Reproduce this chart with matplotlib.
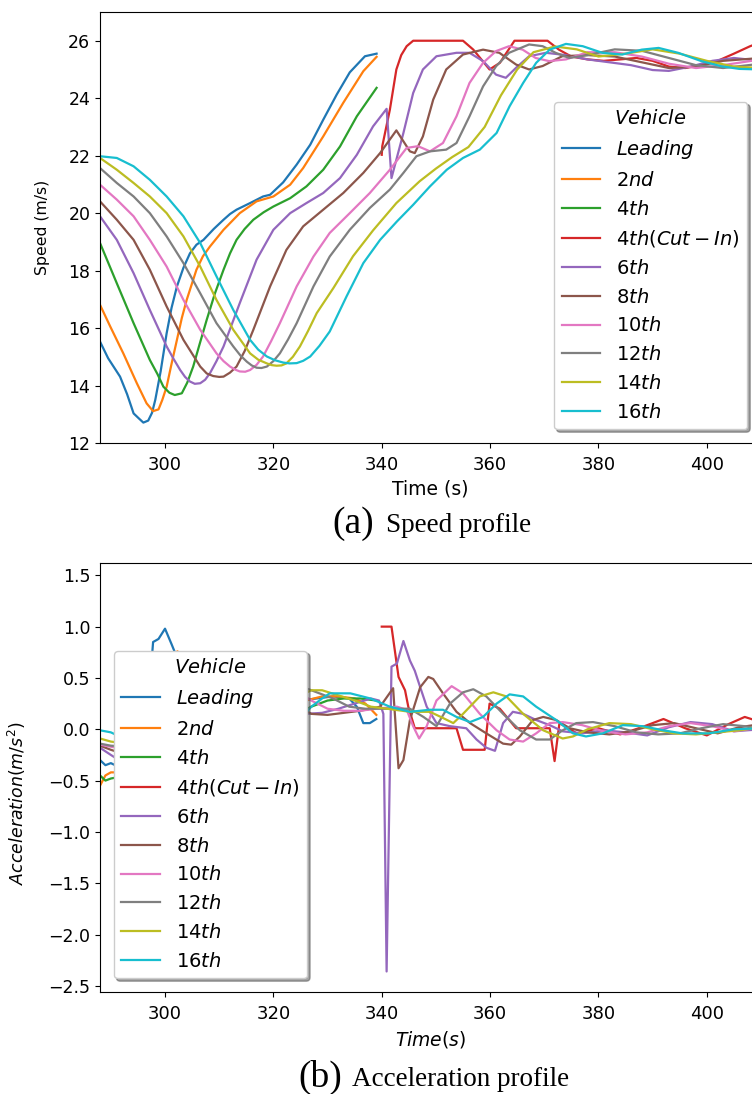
import matplotlib
matplotlib.use("Agg")
import matplotlib.pyplot as plt

# ---- vehicle labels / colors (tab10 order) ----
labels = [r"$Leading$", r"2$nd$", r"4$th$", r"4$th(Cut-In)$", r"6$th$",
          r"8$th$", r"10$th$", r"12$th$", r"14$th$", r"16$th$"]

# ---- speed profiles (t in s, v in m/s) ----
lead_t = [288, 289.5, 291.7, 293, 294.2, 295.2, 296, 296.9, 297.6, 298.2, 299.2, 300.3, 301.2, 302.2, 303.4, 304.6,
          305.8, 307.1, 309, 310.8, 312, 313.2, 315.7, 318.1, 319.4, 321.8, 324.3, 326.8, 329.2, 331.7, 334.1,
          336.9, 339.05]
lead_v = [15.53, 14.95, 14.31, 13.7, 13.03, 12.85, 12.71, 12.78, 13.05, 13.5, 14.5, 15.82, 16.7, 17.45, 18.1, 18.6,
          18.9, 19.07, 19.45, 19.77, 19.97, 20.12, 20.35, 20.58, 20.64, 21.07, 21.69, 22.38, 23.25, 24.13, 24.9,
          25.46, 25.55]

nd2_t = [288, 289.9, 292.3, 294.8, 296.6, 297.8, 298.8, 299.5, 300.3, 301.2, 302.2, 303.1, 304, 305.8, 307, 308.3,
         310.8, 313.8, 316.9, 320, 323.1, 325.5, 329.2, 332.9, 336.6, 339.05]
nd2_v = [16.81, 16.05, 15.12, 14.08, 13.38, 13.11, 13.17, 13.5, 13.96, 14.75, 15.59, 16.35, 16.98, 18.03, 18.5,
         18.84, 19.42, 20.0, 20.41, 20.58, 20.99, 21.57, 22.67, 23.84, 24.94, 25.44]

th4_t = [288, 291.1, 294.2, 297.2, 298.6, 299.7, 300.8, 301.8, 303.1, 304.1, 305.2, 306.4, 307.7, 309.2, 310.8,
         312, 313.2, 314.7, 316.3, 318.2, 320, 323.1, 326.1, 329.2, 332.3, 335.4, 339.05]
th4_v = [18.96, 17.56, 16.17, 14.89, 14.4, 13.96, 13.75, 13.67, 13.73, 14.1, 14.66, 15.45, 16.29, 17.2, 18.03,
         18.6, 19.07, 19.45, 19.77, 20.03, 20.23, 20.52, 20.93, 21.51, 22.32, 23.37, 24.36]

cut_t = [340, 340.1, 341.5, 342.7, 343.6, 344.6, 345.8, 355, 356.9, 359.9, 361.8, 364.5, 370.6, 372.7, 375, 378,
         381, 384, 387, 390, 393, 396, 399, 402, 405, 408, 410]
cut_v = [22.03, 22.33, 23.6, 25.0, 25.5, 25.81, 26.0, 26.0, 25.69, 25.0, 25.23, 26.0, 26.0, 25.69, 25.45, 25.35,
         25.3, 25.35, 25.4, 25.3, 25.1, 25.05, 25.15, 25.3, 25.55, 25.81, 25.95]

th6_t = [288, 291.1, 294.2, 297.2, 300.3, 301.6, 302.8, 303.7, 304.6, 305.5, 306.5, 307.4, 308.3, 309.5, 310.8,
         313.8, 316.9, 320, 323.1, 326.1, 329.2, 332.3, 335.4, 338.4, 340.9, 341.8, 344, 345.8, 347.6, 350.1,
         353.8, 356.2, 358.7, 361.1, 362.9, 364.8, 367.2, 370.3, 374, 378, 382, 386, 390, 393, 397, 401, 405, 410]
th6_v = [19.89, 19.07, 17.91, 16.63, 15.36, 14.92, 14.54, 14.3, 14.14, 14.06, 14.08, 14.2, 14.43, 14.85, 15.36,
         16.87, 18.38, 19.42, 20.0, 20.35, 20.7, 21.22, 22.03, 23.02, 23.63, 21.22, 22.79, 24.18, 25.0, 25.46,
         25.58, 25.58, 25.29, 24.82, 24.71, 25.06, 25.46, 25.58, 25.5, 25.35, 25.25, 25.15, 24.98, 24.95, 25.1,
         25.3, 25.4, 25.3]

th8_t = [288, 291.1, 294.2, 297.2, 300.3, 303.4, 306.5, 307.7, 308.9, 310, 310.8, 312, 313.2, 314.7, 316.3, 319.4,
         322.4, 325.5, 329.2, 332.9, 336.6, 339.7, 342.7, 345.2, 346.1, 347.6, 349.5, 351.9, 355, 358.7, 361.7,
         364.8, 367.2, 369.7, 373.3, 378, 383, 388, 393, 398, 403, 410]
th8_v = [20.41, 19.77, 19.07, 18.03, 16.75, 15.59, 14.66, 14.42, 14.33, 14.3, 14.31, 14.45, 14.66, 15.2, 15.94,
         17.45, 18.72, 19.54, 20.12, 20.7, 21.4, 22.09, 22.88, 22.15, 22.09, 22.67, 23.95, 25.0, 25.52, 25.69,
         25.58, 25.17, 25.0, 25.12, 25.46, 25.5, 25.45, 25.25, 25.05, 25.1, 25.3, 25.4]

th10_t = [288, 291.1, 294.2, 297.2, 300.3, 303.4, 306.5, 309.5, 310.8, 312, 313, 313.8, 314.8, 315.7, 316.9, 318.1,
          319.6, 321.2, 324.3, 327.4, 330.4, 334.1, 337.8, 341.5, 344.6, 346.7, 348.9, 351.3, 353.8, 356.2, 358.7,
          361.1, 363.5, 366, 368.4, 370.9, 374, 378, 383, 388, 393, 398, 403, 410]
th10_v = [20.99, 20.47, 19.89, 19.07, 18.14, 16.98, 15.94, 15.12, 14.85, 14.66, 14.55, 14.49, 14.48, 14.54, 14.72,
          15.01, 15.55, 16.17, 17.45, 18.49, 19.31, 20.0, 20.7, 21.51, 22.27, 22.33, 22.15, 22.44, 23.37, 24.53,
          25.23, 25.64, 25.81, 25.69, 25.4, 25.29, 25.35, 25.6, 25.6, 25.45, 25.2, 25.05, 25.15, 25.35]

th12_t = [288, 291.1, 294.2, 297.2, 300.3, 303.4, 306.5, 309.5, 312.6, 313.9, 315.1, 316, 316.9, 317.8, 318.8, 320,
          321.2, 322.7, 324.3, 327.4, 330.4, 334.1, 337.8, 341.5, 344, 346.4, 348.9, 351.9, 353.8, 356.2, 358.7,
          361.1, 363.5, 367.2, 369.7, 372.1, 374.6, 378, 383, 388, 393, 398, 403, 410]
th12_v = [21.57, 21.05, 20.58, 20.0, 19.19, 18.26, 17.21, 16.17, 15.36, 15.05, 14.83, 14.7, 14.62, 14.61, 14.66,
          14.85, 15.12, 15.6, 16.17, 17.45, 18.49, 19.42, 20.18, 20.82, 21.4, 21.98, 22.15, 22.21, 22.44, 23.37,
          24.41, 25.11, 25.58, 25.87, 25.81, 25.58, 25.4, 25.5, 25.7, 25.65, 25.4, 25.15, 25.05, 25.2]

th14_t = [288, 291.1, 294.2, 297.2, 300.3, 303.4, 306.5, 309.5, 312.6, 315.7, 317.2, 318.8, 319.7, 320.6, 321.5,
          322.4, 323.6, 324.9, 326.4, 328, 331.1, 334.7, 338.4, 342.7, 347, 350, 353, 356, 359, 362, 365, 368, 372,
          376, 380, 385, 390, 395, 400, 405, 410]
th14_v = [21.92, 21.51, 21.05, 20.58, 20.0, 19.19, 18.14, 16.98, 15.94, 15.12, 14.9, 14.77, 14.71, 14.69, 14.7,
          14.77, 15.0, 15.36, 15.9, 16.52, 17.4, 18.5, 19.4, 20.35, 21.11, 21.55, 21.95, 22.3, 23.0, 24.1, 25.0,
          25.6, 25.8, 25.7, 25.45, 25.55, 25.7, 25.55, 25.3, 25.1, 25.05]

th16_t = [288, 291.1, 294.2, 297.2, 300.3, 303.4, 306.5, 309.5, 312.6, 315.7, 317.2, 318.8, 320.3, 321.8, 323,
          324.3, 325.5, 326.8, 328.5, 330.4, 333.5, 336.6, 339.7, 342.8, 345.8, 348.9, 352, 355, 358.1, 361.2,
          363.6, 366.1, 368.5, 371, 374, 377.1, 380.7, 384.4, 388, 391.1, 394.7, 399, 402.7, 406, 410]
th16_v = [21.98, 21.92, 21.63, 21.16, 20.58, 19.89, 18.96, 17.8, 16.63, 15.59, 15.25, 15.01, 14.88, 14.8, 14.77,
          14.78, 14.86, 15.01, 15.38, 15.88, 17.1, 18.26, 19.07, 19.71, 20.29, 20.93, 21.51, 21.92, 22.21, 22.79,
          23.72, 24.53, 25.23, 25.69, 25.89, 25.81, 25.58, 25.52, 25.69, 25.75, 25.58, 25.29, 25.11, 25.02, 25.0]

# ---- acceleration profiles (t in s, a in m/s^2) ----
lead_at = [288, 289, 290, 292, 294, 295, 296, 297, 297.8, 298.8, 300, 301.2, 302.2, 303, 305, 307, 310, 313, 316,
           319, 322, 325, 328, 331, 334, 335.4, 336.6, 337.8, 339]
lead_a = [-0.30, -0.35, -0.33, -0.38, -0.4, -0.3, -0.1, 0.3, 0.85, 0.88, 0.98, 0.83, 0.7, 0.55, 0.35, 0.2, 0.25,
          0.15, 0.1, 0.1, 0.2, 0.28, 0.3, 0.32, 0.3, 0.22, 0.06, 0.06, 0.1]

nd2_at = [288, 289, 290, 292, 294, 296, 297.5, 299, 300.5, 301.5, 302.3, 303, 304, 306, 308, 311, 314, 317, 320,
          323, 326, 329, 332, 335, 337, 339]
nd2_a = [-0.55, -0.45, -0.42, -0.42, -0.42, -0.35, -0.1, 0.3, 0.6, 0.72, 0.76, 0.7, 0.6, 0.38, 0.25, 0.2, 0.15,
         0.1, 0.12, 0.18, 0.28, 0.32, 0.32, 0.3, 0.25, 0.14]

th4_at = [288, 289, 290, 293, 296, 298.5, 300.5, 302, 304, 306, 308, 310, 312, 315, 318, 321, 324, 327, 330, 333,
          336, 339]
th4_a = [-0.45, -0.5, -0.48, -0.45, -0.4, -0.3, -0.1, 0.1, 0.4, 0.6, 0.62, 0.5, 0.35, 0.2, 0.15, 0.1, 0.14, 0.22,
         0.28, 0.3, 0.3, 0.28]

cut_at = [340, 341.8, 343.1, 344.3, 344.9, 346.1, 353.8, 355, 359, 359.9, 361.8, 364.8, 371, 371.9, 372.8, 376,
          380, 384, 388, 392, 396, 400, 404, 407, 410]
cut_a = [1.0, 1.0, 0.51, 0.38, 0.22, 0.01, 0.01, -0.2, -0.2, 0.25, 0.2, 0.01, 0.01, -0.31, 0.06, -0.04, 0.01,
         -0.05, 0.02, 0.1, 0.01, -0.06, 0.05, 0.12, 0.07]

th6_at = [288, 290, 293, 296, 299, 302, 304, 306, 308, 310, 312, 314, 316, 318, 320, 323, 326, 329, 332, 335, 338,
          339.5, 340.3, 340.9, 341.8, 342.8, 344, 345.2, 346.1, 347.1, 348.3, 350.1, 352.6, 355.6, 357.5, 359.3,
          360.9, 362.4, 364.2, 366.1, 368.5, 371, 373.4, 377, 381, 385, 389, 393, 397, 401, 405, 410]
th6_a = [-0.18, -0.25, -0.35, -0.42, -0.4, -0.3, -0.15, 0.05, 0.3, 0.45, 0.5, 0.5, 0.45, 0.35, 0.22, 0.15, 0.15,
         0.16, 0.2, 0.25, 0.3, 0.28, 0.15, -2.36, 0.61, 0.64, 0.86, 0.67, 0.57, 0.41, 0.22, 0.06, 0.03, 0.01, -0.1,
         -0.18, -0.21, 0.06, 0.17, 0.15, 0.09, 0.04, -0.02, -0.04, -0.01, -0.03, -0.06, 0.02, 0.07, 0.05, -0.02, 0.0]

th8_at = [288, 290, 293, 296, 299, 302, 305, 308, 310, 312, 314, 316, 318, 320, 322, 324, 327, 330, 333, 336, 338,
          339.7, 342.1, 343.1, 344, 345.2, 347.1, 348.6, 349.5, 351.3, 353.8, 356.3, 359.3, 362.4, 363.9, 365.5,
          367.9, 369.8, 372.2, 374.7, 378, 382, 386, 390, 394, 398, 402, 406, 410]
th8_a = [-0.16, -0.2, -0.25, -0.35, -0.42, -0.4, -0.3, -0.12, 0.05, 0.25, 0.4, 0.48, 0.5, 0.45, 0.35, 0.25, 0.15,
         0.14, 0.16, 0.18, 0.2, 0.22, 0.4, -0.38, -0.3, 0.09, 0.41, 0.51, 0.49, 0.35, 0.17, 0.06, -0.04, -0.14,
         -0.15, -0.07, 0.09, 0.12, 0.09, 0.01, -0.03, -0.05, -0.02, 0.04, 0.06, 0.01, -0.04, 0.02, 0.05]

th10_at = [288, 290, 293, 296, 299, 302, 305, 308, 311, 313, 315, 317, 319, 321, 323, 325, 327, 330, 333, 336, 339,
           342.8, 344.6, 345.8, 346.9, 348.3, 350.1, 352.9, 355, 358.1, 361.2, 363.6, 366.1, 368.5, 371, 373.4,
           377, 381, 385, 389, 393, 397, 401, 405, 410]
th10_a = [-0.15, -0.17, -0.2, -0.28, -0.35, -0.38, -0.35, -0.28, -0.18, -0.05, 0.1, 0.3, 0.42, 0.45, 0.42, 0.35,
          0.28, 0.2, 0.18, 0.18, 0.2, 0.22, 0.19, 0.03, -0.09, 0.03, 0.28, 0.42, 0.35, 0.15, -0.01, -0.1, -0.12,
          -0.04, 0.06, 0.07, 0.04, -0.02, -0.05, -0.03, 0.03, 0.06, 0.03, -0.02, 0.02]

th12_at = [288, 290, 293, 296, 299, 302, 305, 308, 311, 314, 316, 318, 320, 322, 324, 326, 328, 331, 334, 337, 340,
           343, 345.2, 347.7, 350.1, 352.6, 355, 356.9, 359.3, 362.4, 365.5, 368.5, 371, 373.4, 375.9, 379, 383,
           387, 391, 395, 399, 403, 407, 410]
th12_a = [-0.14, -0.16, -0.17, -0.2, -0.27, -0.32, -0.36, -0.36, -0.3, -0.2, -0.08, 0.05, 0.2, 0.33, 0.4, 0.4,
          0.36, 0.3, 0.22, 0.2, 0.2, 0.2, 0.2, 0.12, 0.03, 0.25, 0.36, 0.39, 0.32, 0.15, -0.01, -0.1, -0.1, -0.01,
          0.06, 0.07, 0.03, -0.03, -0.05, -0.04, 0.01, 0.05, 0.03, 0.0]

th14_at = [288, 290, 293, 296, 299, 302, 305, 308, 311, 314, 317, 319, 321, 323, 325, 327, 329, 332, 335, 338, 341,
           345.2, 348.9, 351.3, 353.2, 355, 358.1, 360.6, 363, 366.1, 369.8, 373.4, 375.3, 378, 382, 386, 390, 394,
           398, 402, 406, 410]
th14_a = [-0.09, -0.12, -0.14, -0.16, -0.2, -0.27, -0.33, -0.38, -0.36, -0.3, -0.18, -0.05, 0.08, 0.2, 0.33, 0.38,
          0.38, 0.33, 0.28, 0.22, 0.2, 0.17, 0.17, 0.11, 0.06, 0.15, 0.32, 0.36, 0.32, 0.15, -0.01, -0.09, -0.07,
          0.0, 0.06, 0.05, 0.0, -0.04, -0.05, -0.03, -0.01, 0.02]

th16_at = [288, 290, 292, 294, 297, 300, 303, 306, 309, 312, 315, 318, 321, 323, 325, 327, 329, 330.4, 334.2,
           337.9, 341.5, 345.2, 348.9, 351.3, 353.8, 356.3, 358.7, 361.2, 363.6, 366.1, 368.5, 372.2, 375.3,
           377.7, 380.8, 384.5, 388.2, 391.9, 395.5, 400.4, 405, 410]
th16_a = [-0.01, -0.03, -0.08, -0.12, -0.17, -0.2, -0.25, -0.32, -0.38, -0.38, -0.32, -0.22, -0.1, 0.0, 0.1, 0.22,
          0.3, 0.35, 0.35, 0.3, 0.22, 0.17, 0.19, 0.19, 0.12, 0.07, 0.12, 0.25, 0.34, 0.32, 0.22, 0.09, -0.04,
          -0.07, -0.04, 0.04, 0.03, -0.01, -0.04, -0.04, 0.0, 0.01]

speed_series = [(lead_t, lead_v), (nd2_t, nd2_v), (th4_t, th4_v), (cut_t, cut_v), (th6_t, th6_v),
                (th8_t, th8_v), (th10_t, th10_v), (th12_t, th12_v), (th14_t, th14_v), (th16_t, th16_v)]
accel_series = [(lead_at, lead_a), (nd2_at, nd2_a), (th4_at, th4_a), (cut_at, cut_a), (th6_at, th6_a),
                (th8_at, th8_a), (th10_at, th10_a), (th12_at, th12_a), (th14_at, th14_a), (th16_at, th16_a)]

W, H = 752, 1094
fig = plt.figure(figsize=(W / 100, H / 100), dpi=100)


def axes_px(left, top, right, bottom):
    return fig.add_axes([left / W, 1 - bottom / H, (right - left) / W, (bottom - top) / H])


# ---- (a) speed ----
ax1 = axes_px(100, 12, 761, 443)
for i, (t, v) in enumerate(speed_series):
    ax1.plot(t, v, color="C%d" % i, lw=1.6, label=labels[i])
ax1.set_xlim(288, 410)
ax1.set_ylim(12, 27)
ax1.set_yticks(range(12, 27, 2))
ax1.set_xticks(range(300, 401, 20))
ax1.tick_params(axis="x", labelsize=13, pad=6)
ax1.tick_params(axis="y", labelsize=12.5)
ax1.set_xlabel("Time (s)", fontsize=13.5, labelpad=4)
ax1.set_ylabel("Speed (m/s)", fontsize=11.3)
ax1.yaxis.set_label_coords(-50 / 661, 0.5)
leg1 = ax1.legend(title=r"$Vehicle$", loc="lower right", shadow=True, fontsize=14, title_fontsize=14,
                  borderaxespad=0.7)

# ---- (b) acceleration ----
ax2 = axes_px(100, 563, 761, 992)
for i, (t, a) in enumerate(accel_series):
    ax2.plot(t, a, color="C%d" % i, lw=1.6, label=labels[i])
ax2.set_xlim(288, 410)
ax2.set_ylim(-2.56, 1.62)
ax2.set_yticks([-2.5, -2.0, -1.5, -1.0, -0.5, 0.0, 0.5, 1.0, 1.5])
ax2.set_xticks(range(300, 401, 20))
ax2.tick_params(axis="x", labelsize=13, pad=6)
ax2.tick_params(axis="y", labelsize=12.5)
ax2.set_xlabel(r"$Time(s)$", fontsize=13.5, labelpad=4)
ax2.set_ylabel(r"$Acceleration(m/s^2)$", fontsize=12.5)
ax2.yaxis.set_label_coords(-72 / 661, 0.44)
leg2 = ax2.legend(title=r"$Vehicle$", loc="lower left", shadow=True, fontsize=14, title_fontsize=14,
                  borderaxespad=0.7)

# ---- captions ----
serif = "Liberation Serif"
fig.text(374 / W, 1 - 524 / H, "(a)", family=serif, fontsize=27, ha="right", va="center")
fig.text(386 / W, 1 - 526 / H, "Speed profile", family=serif, fontsize=19.5, ha="left", va="center")
fig.text(342 / W, 1 - 1077 / H, "(b)", family=serif, fontsize=27, ha="right", va="center")
fig.text(352 / W, 1 - 1079 / H, "Acceleration profile", family=serif, fontsize=19.5, ha="left", va="center")

fig.savefig("out.png", dpi=100)
